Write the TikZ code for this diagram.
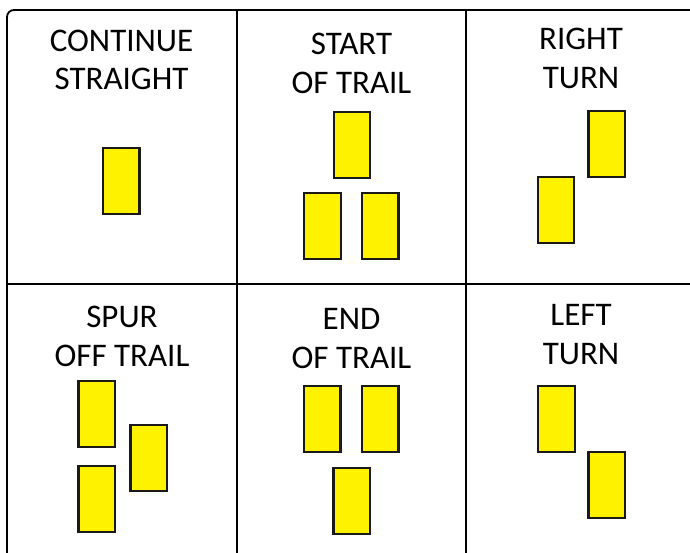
\documentclass[tikz,border=0pt]{standalone}
\usepackage{fontspec}
\setmainfont{Carlito}
\begin{document}
\begin{tikzpicture}[x=1pt,y=-1pt,
  sign/.style={draw=black!90,fill=yellow,line width=2.2pt,minimum width=36.5pt,minimum height=66pt,inner sep=0pt},
  lbl/.style={anchor=base,inner sep=0pt,font=\fontsize{33}{38}\selectfont},
  frame/.style={line width=1.8pt,draw=black}]
\useasboundingbox (0,0) rectangle (690,553);
\clip (0,0) rectangle (690,553);
\draw[frame,rounded corners=7pt] (7,10) rectangle (720,580);
\draw[frame] (237,10) -- (237,580);
\draw[frame] (466,10) -- (466,580);
\draw[frame] (7,284) -- (720,284);
% labels
\node[lbl] (t1a) at (121.5,52) {CONTINUE};
\node[lbl] (t1b) at (121.5,90) {STRAIGHT};
\node[lbl] (t2a) at (351.5,55) {START};
\node[lbl] (t2b) at (351.5,94) {OF TRAIL};
\node[lbl] (t3a) at (581,50) {RIGHT};
\node[lbl] (t3b) at (581,89) {TURN};
\node[lbl] (t4a) at (122,327) {SPUR};
\node[lbl] (t4b) at (122,366) {OFF TRAIL};
\node[lbl] (t5a) at (351.5,329) {END};
\node[lbl] (t5b) at (351.5,368) {OF TRAIL};
\node[lbl] (t6a) at (581,325) {LEFT};
\node[lbl] (t6b) at (581,364) {TURN};
% signs
\node[sign] (s1) at (121.3,181) {};
\node[sign] (s2a) at (352,145) {};
\node[sign] (s2b) at (322.5,226) {};
\node[sign] (s2c) at (380.2,226) {};
\node[sign] (s3a) at (606.8,144) {};
\node[sign] (s3b) at (556,210) {};
\node[sign] (s4a) at (96.7,414) {};
\node[sign] (s4b) at (148.7,458.3) {};
\node[sign] (s4c) at (96.7,499) {};
\node[sign] (s5a) at (322.2,419.3) {};
\node[sign] (s5b) at (380.3,419.3) {};
\node[sign] (s5c) at (351.7,500.8) {};
\node[sign] (s6a) at (556.5,418.7) {};
\node[sign] (s6b) at (606.8,484.7) {};
\end{tikzpicture}
\end{document}
